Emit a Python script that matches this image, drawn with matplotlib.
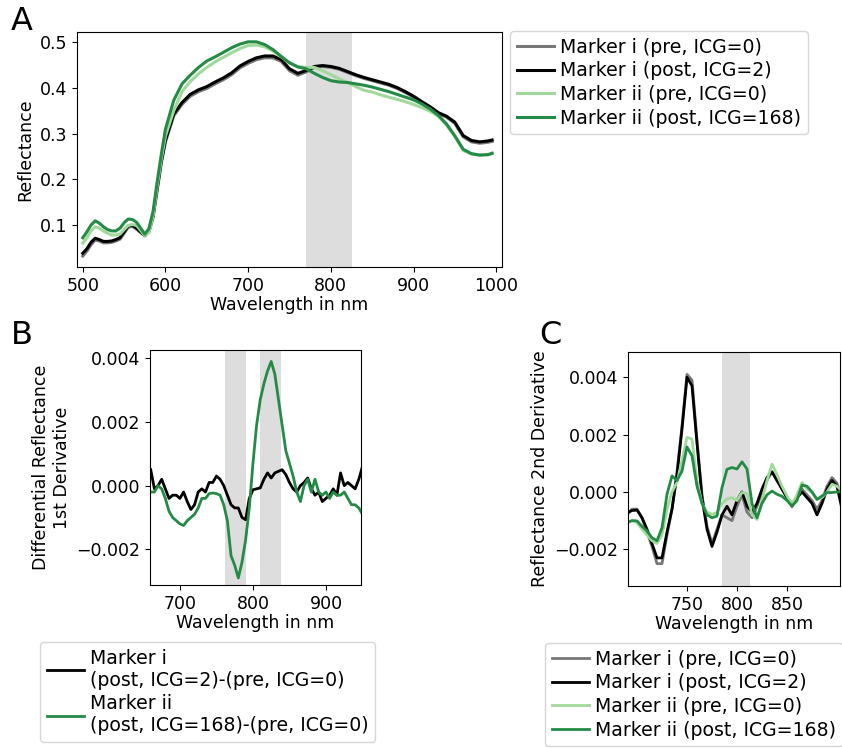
import matplotlib
matplotlib.use('Agg')
import matplotlib.pyplot as plt

# ---- panel A: reflectance spectra ----
wl_a = [500, 505, 510, 515, 520, 525, 530, 535, 540, 545, 550, 555, 560, 565, 570,
        575, 580, 585, 590, 595, 600, 610, 620, 630, 640, 650, 660, 670, 680, 690,
        700, 710, 720, 730, 740, 750, 760, 770, 780, 790, 800, 810, 820, 830, 840,
        850, 860, 870, 880, 890, 900, 910, 920, 930, 940, 950, 960, 970, 980, 990, 995]

refl_i_pre = [0.032, 0.043, 0.057, 0.067, 0.065, 0.061, 0.061, 0.062, 0.065, 0.069, 0.082,
              0.095, 0.097, 0.091, 0.083, 0.076, 0.085, 0.116, 0.176, 0.236, 0.282, 0.339,
              0.364, 0.382, 0.392, 0.399, 0.409, 0.418, 0.429, 0.444, 0.454, 0.462, 0.466,
              0.466, 0.458, 0.438, 0.428, 0.435, 0.445, 0.447, 0.445, 0.441, 0.434, 0.427,
              0.421, 0.416, 0.411, 0.406, 0.399, 0.390, 0.380, 0.368, 0.357, 0.344, 0.336,
              0.322, 0.293, 0.282, 0.279, 0.281, 0.283]
refl_i_post = [0.038, 0.048, 0.062, 0.071, 0.068, 0.064, 0.064, 0.065, 0.068, 0.072, 0.085,
               0.098, 0.099, 0.093, 0.085, 0.078, 0.087, 0.120, 0.180, 0.240, 0.286, 0.343,
               0.368, 0.386, 0.396, 0.403, 0.413, 0.422, 0.433, 0.448, 0.458, 0.466, 0.470,
               0.470, 0.462, 0.442, 0.432, 0.438, 0.447, 0.449, 0.447, 0.443, 0.436, 0.429,
               0.423, 0.418, 0.413, 0.408, 0.401, 0.392, 0.382, 0.370, 0.359, 0.346, 0.338,
               0.325, 0.296, 0.285, 0.282, 0.284, 0.286]
refl_ii_pre = [0.060, 0.072, 0.087, 0.096, 0.093, 0.087, 0.082, 0.078, 0.078, 0.080, 0.090,
               0.099, 0.101, 0.099, 0.088, 0.077, 0.083, 0.120, 0.185, 0.245, 0.295, 0.350,
               0.392, 0.414, 0.431, 0.445, 0.457, 0.467, 0.477, 0.486, 0.493, 0.494, 0.490,
               0.481, 0.468, 0.455, 0.447, 0.445, 0.445, 0.438, 0.429, 0.420, 0.412, 0.403,
               0.395, 0.391, 0.385, 0.380, 0.375, 0.370, 0.364, 0.357, 0.349, 0.338, 0.318,
               0.294, 0.263, 0.256, 0.253, 0.254, 0.256]
refl_ii_post = [0.072, 0.085, 0.100, 0.109, 0.104, 0.096, 0.090, 0.087, 0.087, 0.093, 0.105,
                0.113, 0.112, 0.106, 0.093, 0.080, 0.092, 0.130, 0.195, 0.255, 0.310, 0.373,
                0.409, 0.428, 0.445, 0.459, 0.468, 0.478, 0.488, 0.496, 0.501, 0.501, 0.495,
                0.484, 0.469, 0.455, 0.446, 0.442, 0.432, 0.423, 0.416, 0.413, 0.412, 0.409,
                0.406, 0.402, 0.397, 0.392, 0.386, 0.380, 0.374, 0.365, 0.354, 0.340, 0.321,
                0.295, 0.266, 0.256, 0.253, 0.254, 0.257]

# ---- panel B: differential reflectance, 1st derivative ----
wl_b = [660, 665, 670, 675, 680, 685, 690, 695, 700, 705, 710, 715, 720, 725, 730,
        735, 740, 745, 750, 755, 760, 765, 770, 775, 780, 785, 790, 795, 800, 805,
        810, 815, 820, 825, 830, 835, 840, 845, 850, 855, 860, 865, 870, 875, 880,
        885, 890, 895, 900, 905, 910, 915, 920, 925, 930, 935, 940, 945, 950]
d1_i = [0.0005, -0.0001, 0.0000, 0.0002, -0.0001, -0.0004, -0.0003, -0.0003, -0.0004,
        -0.0002, -0.0005, -0.00075, -0.0006, -0.0002, -0.0001, -0.0002, 0.0001, 0.0001,
        0.0003, 0.0002, 0.0000, -0.0003, -0.0006, -0.0007, -0.0007, -0.0010, -0.00107,
        -0.0004, -0.00013, -0.0001, -0.00007, 0.0002, 0.0004, 0.00024, 0.0004, 0.00045,
        0.0005, 0.00035, 0.0001, -0.0001, -0.0002, 0.0000, 0.0001, 0.00024, -0.0001,
        -0.0003, -0.0002, -0.0005, -0.0004, -0.0003, -0.0001, -0.0003, 0.0004, 0.0000,
        0.0001, 0.0000, -0.0001, 0.0002, 0.0006]
d1_ii = [-0.0002, -0.0002, 0.0000, -0.0001, -0.0004, -0.0008, -0.0010, -0.0011, -0.0012,
         -0.00125, -0.0011, -0.0010, -0.0009, -0.0007, -0.0004, -0.0004, -0.00025, -0.00023,
         -0.00025, -0.0003, -0.0006, -0.0011, -0.0022, -0.0025, -0.0029, -0.0024, -0.0017,
         -0.0007, 0.0007, 0.0019, 0.0027, 0.0032, 0.0036, 0.0039, 0.0035, 0.0027, 0.0019,
         0.0011, 0.0007, 0.0003, -0.0002, -0.0005, 0.0000, 0.0002, -0.0002, 0.0002, -0.0002,
         -0.0003, -0.0002, -0.0004, -0.0002, -0.0003, -0.0003, -0.0002, -0.0004, -0.0006,
         -0.0006, -0.0007, -0.0009]

# ---- panel C: reflectance, 2nd derivative ----
wl_c = [690, 695, 700, 705, 710, 715, 720, 725, 730, 735, 740, 745, 750, 755, 760,
        765, 770, 775, 780, 785, 790, 795, 800, 805, 810, 815, 820, 825, 830, 835,
        840, 845, 850, 855, 860, 865, 870, 875, 880, 885, 890, 895, 900, 905]
d2_i_pre = [-0.0008, -0.0006, -0.0006, -0.0009, -0.0014, -0.0019, -0.0025, -0.0025, -0.0015,
            -0.0006, 0.0007, 0.0023, 0.0041, 0.0039, 0.0018, -0.0001, -0.0012, -0.0018,
            -0.0013, -0.0008, -0.0009, -0.0010, -0.0005, -0.0001, -0.0007, -0.0009, -0.0005,
            0.0000, 0.0004, 0.0007, 0.0004, 0.0001, -0.0002, -0.0004, -0.0002, 0.0001,
            -0.0001, -0.0003, -0.0006, -0.0003, 0.0002, 0.0005, 0.0003, -0.0003]
d2_i_post = [-0.00072, -0.00065, -0.00063, -0.0009, -0.0013, -0.0018, -0.0023, -0.0023,
             -0.0014, -0.0006, 0.0006, 0.0022, 0.0040, 0.0037, 0.0017, -0.0002, -0.0013,
             -0.0019, -0.0014, -0.0008, -0.0005, -0.0008, -0.0003, 0.0000, -0.0005, -0.0007,
             -0.0004, 0.0001, 0.0005, 0.0007, 0.0004, 0.0001, -0.0002, -0.0005, -0.0002,
             0.0000, -0.0002, -0.0004, -0.0008, -0.0004, 0.0001, 0.0004, 0.0002, -0.0006]
d2_ii_pre = [-0.00107, -0.0010, -0.00107, -0.0013, -0.0015, -0.0017, -0.0018, -0.0015,
             -0.0006, 0.0000, 0.00033, 0.0011, 0.0019, 0.00184, 0.0004, -0.0004, -0.0007,
             -0.00078, -0.00072, -0.0004, -0.00025, -0.0002, -0.0003, -0.00002, -0.00005,
             -0.0008, -0.00096, -0.0003, 0.0004, 0.00097, 0.0006, 0.0002, -0.00014, -0.00043,
             -0.0001, 0.00033, 0.0001, -0.00002, -0.00026, -0.0002, 0.0000, 0.00027, 0.0002,
             0.00003]
d2_ii_post = [-0.00107, -0.0010, -0.00101, -0.0012, -0.00136, -0.0016, -0.0017, -0.00125,
              -0.00008, 0.00056, 0.0004, 0.00073, 0.00157, 0.00126, 0.0002, -0.0004, -0.0008,
              -0.0009, -0.00084, 0.00015, 0.00079, 0.00085, 0.0008, 0.00105, 0.0008, -0.0004,
              -0.0009, -0.0004, -0.0001, 0.00003, -0.00008, -0.00015, -0.0003, -0.00049,
              -0.0003, 0.00024, 0.0002, 0.0000, -0.00026, -0.00014, -0.00002, -0.00002,
              0.0000, 0.0000]

labels = ['Marker i (pre, ICG=0)', 'Marker i (post, ICG=2)',
          'Marker ii (pre, ICG=0)', 'Marker ii (post, ICG=168)']
diff_labels = ['Marker i\n(post, ICG=2)-(pre, ICG=0)',
               'Marker ii\n(post, ICG=168)-(pre, ICG=0)']

colors = ['#777777', '#000000', '#a1d99b', '#238b45']
SHADE = '#dddddd'
FS = 12.5
LEG = dict(loc='upper left', borderaxespad=0, fontsize=13.6, labelspacing=0.25,
           handlelength=2.0, handletextpad=0.3, borderpad=0.35)

plt.rcParams['font.family'] = 'DejaVu Sans'
plt.rcParams['font.size'] = FS

fig = plt.figure(figsize=(8.42, 7.48), dpi=100)

# ===== A =====
axA = fig.add_axes([77/842, 1-267/748, 425/842, 235/748])
axA.axvspan(770, 826, color=SHADE, lw=0, zorder=0)
for ys, c, lab in zip([refl_i_pre, refl_i_post, refl_ii_pre, refl_ii_post], colors, labels):
    axA.plot(wl_a, ys, color=c, lw=2.2, label=lab)
axA.set_xlim(493, 1007)
axA.set_ylim(0.008, 0.5225)
axA.set_xticks([500, 600, 700, 800, 900, 1000])
axA.set_yticks([0.1, 0.2, 0.3, 0.4, 0.5])
axA.set_xlabel('Wavelength in nm', fontsize=FS, labelpad=1)
axA.set_ylabel('Reflectance', fontsize=FS)
axA.tick_params(labelsize=FS)
hA, lA = axA.get_legend_handles_labels()
fig.legend(hA, lA, bbox_to_anchor=(510/842, 1-31/748), **LEG)

# ===== B =====
axB = fig.add_axes([150/842, 1-585/748, 211/842, 235/748])
axB.axvspan(762, 790, color=SHADE, lw=0, zorder=0)
axB.axvspan(810, 838, color=SHADE, lw=0, zorder=0)
axB.plot(wl_b, d1_i, color=colors[1], lw=2, label=diff_labels[0])
axB.plot(wl_b, d1_ii, color=colors[3], lw=2, label=diff_labels[1])
axB.set_xlim(659, 948)
axB.set_ylim(-0.00312, 0.00426)
axB.set_xticks([700, 800, 900])
axB.set_yticks([-0.002, 0.0, 0.002, 0.004])
axB.set_xlabel('Wavelength in nm', fontsize=FS, labelpad=1)
axB.set_ylabel('Differential Reflectance\n1st Derivative', fontsize=FS)
axB.tick_params(labelsize=FS)
hB, lB = axB.get_legend_handles_labels()
fig.legend(hB, lB, bbox_to_anchor=(40/842, 1-642/748), **LEG)

# ===== C =====
axC = fig.add_axes([628/842, 1-586/748, 212/842, 234/748])
axC.axvspan(785, 813, color=SHADE, lw=0, zorder=0)
for ys, c, lab in zip([d2_i_pre, d2_i_post, d2_ii_pre, d2_ii_post], colors, labels):
    axC.plot(wl_c, ys, color=c, lw=2, label=lab)
axC.set_xlim(691, 903)
axC.set_ylim(-0.00328, 0.00488)
axC.set_xticks([750, 800, 850])
axC.set_yticks([-0.002, 0.0, 0.002, 0.004])
axC.set_xlabel('Wavelength in nm', fontsize=FS, labelpad=1)
axC.set_ylabel('Reflectance 2nd Derivative', fontsize=FS)
axC.tick_params(labelsize=FS)
hC, lC = axC.get_legend_handles_labels()
fig.legend(hC, lC, bbox_to_anchor=(545/842, 1-643/748), **LEG)

# panel letters
fig.text(11/842, 1-6/748, 'A', fontsize=23, va='top', ha='left')
fig.text(11/842, 1-320/748, 'B', fontsize=23, va='top', ha='left')
fig.text(539/842, 1-320/748, 'C', fontsize=23, va='top', ha='left')

fig.savefig('out.png', dpi=100, facecolor='white')
